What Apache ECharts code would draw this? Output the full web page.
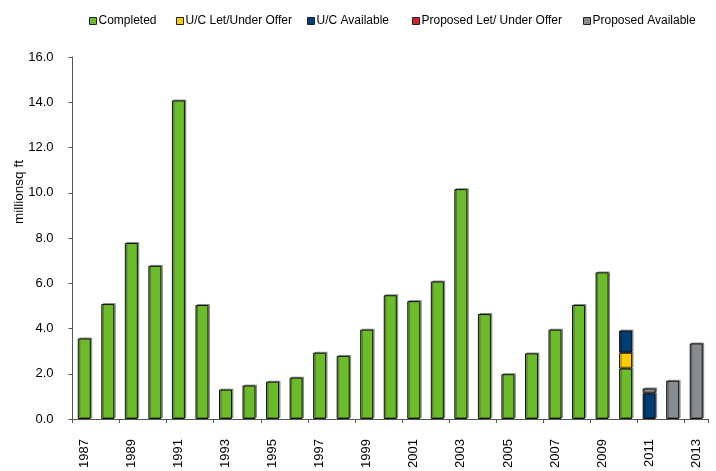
<!DOCTYPE html>
<html>
<head>
<meta charset="utf-8">
<script src="https://cdn.jsdelivr.net/npm/echarts@6/dist/echarts.min.js"></script>
<style>html,body{margin:0;padding:0;background:#fff}#c{width:716px;height:471px}</style>
</head>
<body>
<div id="c"></div>
<script>
const years = ['1987','1988','1989','1990','1991','1992','1993','1994','1995','1996','1997','1998','1999','2000','2001','2002','2003','2004','2005','2006','2007','2008','2009','2010','2011','2012','2013'];
const completed = [3.56,5.08,7.78,6.77,14.08,5.04,1.30,1.48,1.65,1.83,2.93,2.79,3.95,5.47,5.21,6.08,10.16,4.64,1.98,2.90,3.95,5.04,6.48,2.23,null,null,null];
const ucLet = [null,null,null,null,null,null,null,null,null,null,null,null,null,null,null,null,null,null,null,null,null,null,null,0.70,null,null,null];
const ucAvailable = [null,null,null,null,null,null,null,null,null,null,null,null,null,null,null,null,null,null,null,null,null,null,null,0.98,1.13,null,null];
const proposedLet = [null,null,null,null,null,null,null,null,null,null,null,null,null,null,null,null,null,null,null,null,null,null,null,null,null,null,null];
const proposedAvailable = [null,null,null,null,null,null,null,null,null,null,null,null,null,null,null,null,null,null,null,null,null,null,null,null,0.22,1.69,3.34];
const seriesNames = ['Completed','U/C Let/Under Offer','U/C Available','Proposed Let/ Under Offer','Proposed Available'];
const seriesColors = ['#6cbb2a','#ffcc00','#003e74','#d4202a','#878c90'];
const seriesData = [completed, ucLet, ucAvailable, proposedLet, proposedAvailable];
const legendLefts = [84, 171, 302, 407, 578];

const chart = echarts.init(document.getElementById('c'), null, {renderer:'canvas'});
const font = 'Liberation Sans, Arial, sans-serif';
chart.setOption({
  animation:false,
  textStyle:{fontFamily:font},
  legend: seriesNames.map((n,i)=>({
    top:10, left:legendLefts[i], itemWidth:7, itemHeight:7,
    icon:'rect',
    itemStyle:{borderColor:'#222',borderWidth:1},
    textStyle:{fontSize:12,color:'#000',fontFamily:font,padding:[0,0,0,-3]},
    data:[n]
  })),
  grid:{left:72.5,right:8,top:57,bottom:52,containLabel:false},
  graphic:[{
    type:'text', x:19, y:192, rotation:Math.PI/2,
    style:{text:'millionsq ft', font:'13.5px '+font, fill:'#000', textAlign:'center', textVerticalAlign:'middle'}
  }],
  xAxis:{
    type:'category', data:years,
    axisLine:{lineStyle:{color:'#555',width:1}},
    axisTick:{show:true,alignWithLabel:false,length:4,lineStyle:{color:'#555'}},
    axisLabel:{interval:1,rotate:90,fontSize:13,color:'#000',margin:20,fontFamily:font}
  },
  yAxis:{
    type:'value', min:0, max:16, interval:2,
    splitLine:{show:false},
    axisLine:{show:true,lineStyle:{color:'#555',width:1}},
    axisTick:{show:true,length:4,inside:false,lineStyle:{color:'#555'}},
    axisLabel:{formatter:v=>v.toFixed(1),fontSize:13,color:'#000',margin:19,fontFamily:font}
  },
  series: seriesData.map((d,i)=>({
    name:seriesNames[i], type:'bar', stack:'total', data:d,
    barWidth:13,
    itemStyle:{color:seriesColors[i],borderColor:'#111',borderWidth:1,
      shadowColor:'rgba(0,0,0,0.35)',shadowOffsetX:1.5,shadowOffsetY:-1,shadowBlur:0}
  }))
});
</script>
</body>
</html>
